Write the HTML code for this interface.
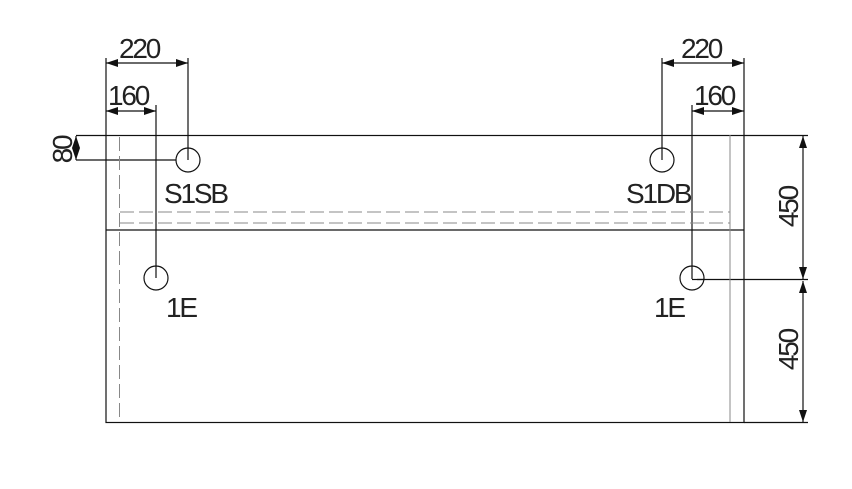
<!DOCTYPE html>
<html><head><style>body{margin:0;background:#fff}svg{display:block}text{font-family:"Liberation Sans",sans-serif;font-size:28px;letter-spacing:-2.2px;fill:#222}</style></head><body>
<svg width="852" height="489" viewBox="0 0 852 489">
<defs><marker id="a" markerWidth="12" markerHeight="8" refX="12" refY="4" orient="auto-start-reverse" markerUnits="userSpaceOnUse"><path d="M0,0 L12,4 L0,8z" fill="#111"/></marker></defs>
<g stroke="#111" stroke-width="1.2" fill="none">
<rect x="106" y="135.5" width="638" height="287"/>
<line x1="106" y1="230" x2="744" y2="230"/>
<line x1="106" y1="58" x2="106" y2="135"/>
<line x1="744" y1="58" x2="744" y2="135"/>
<line x1="744" y1="135.5" x2="808" y2="135.5"/>
<line x1="744" y1="422.5" x2="808" y2="422.5"/>
<line x1="697" y1="279.5" x2="808" y2="279.5"/>
<line x1="76" y1="135.5" x2="106" y2="135.5"/>
<line x1="76" y1="160" x2="176" y2="160"/>
<line x1="188" y1="58" x2="188" y2="160"/>
<line x1="156" y1="105" x2="156" y2="278"/>
<line x1="662" y1="58" x2="662" y2="160"/>
<line x1="692" y1="105" x2="692" y2="279"/>
<line x1="692" y1="279.5" x2="704" y2="279.5"/>
<circle cx="188" cy="160" r="12"/><circle cx="662" cy="160" r="12"/>
<circle cx="156" cy="278" r="12"/><circle cx="692" cy="278" r="12"/>
<line x1="106" y1="63" x2="188" y2="63" marker-start="url(#a)" marker-end="url(#a)"/>
<line x1="106" y1="111" x2="156" y2="111" marker-start="url(#a)" marker-end="url(#a)"/>
<line x1="662" y1="63" x2="744" y2="63" marker-start="url(#a)" marker-end="url(#a)"/>
<line x1="692" y1="111" x2="744" y2="111" marker-start="url(#a)" marker-end="url(#a)"/>
<line x1="76" y1="136" x2="76" y2="160" marker-start="url(#a)" marker-end="url(#a)"/>
<line x1="803" y1="136" x2="803" y2="279" marker-start="url(#a)" marker-end="url(#a)"/>
<line x1="803" y1="281" x2="803" y2="422" marker-start="url(#a)" marker-end="url(#a)"/>
</g>
<g stroke="#888" stroke-width="1" fill="none">
<line x1="730" y1="135" x2="730" y2="422"/>
<line x1="119.5" y1="137" x2="119.5" y2="422" stroke-dasharray="14,5"/>
<line x1="120" y1="212" x2="730" y2="212" stroke-dasharray="14,5"/>
<line x1="120" y1="223" x2="730" y2="223" stroke-dasharray="14,5"/>
</g>
<text x="119" y="58">220</text><text x="681" y="58">220</text>
<text x="108" y="105">160</text><text x="694" y="105">160</text>
<text x="164" y="203">S1SB</text><text x="626" y="203">S1DB</text>
<text x="166" y="317">1E</text><text x="654" y="317">1E</text>
<text transform="translate(72,150) rotate(-90)" text-anchor="middle">80</text>
<text transform="translate(798,207) rotate(-90)" text-anchor="middle">450</text>
<text transform="translate(798,350) rotate(-90)" text-anchor="middle">450</text>
</svg>
</body></html>
